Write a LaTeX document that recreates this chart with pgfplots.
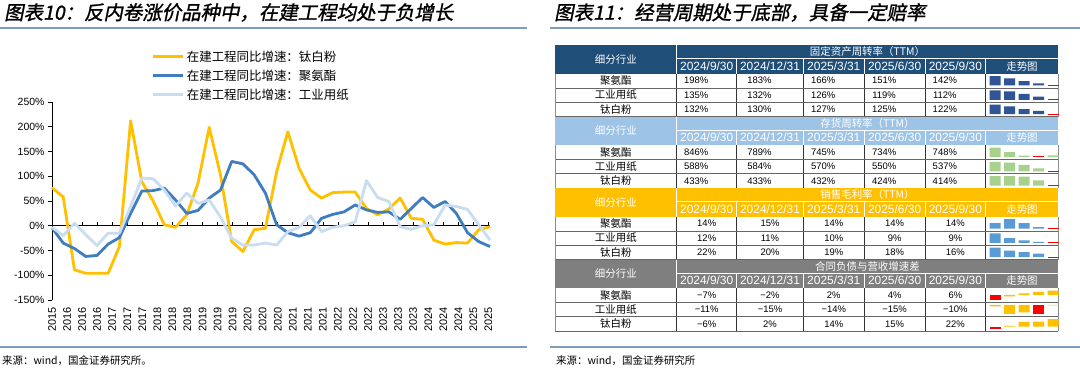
\documentclass[border=0pt]{standalone}
\usepackage{pgfplots}
\usepackage{pgfplotstable}
\pgfplotsset{compat=1.18}
\usepackage{fontspec}
\setmainfont{Liberation Sans}
\newfontfamily\cjk{Noto Sans CJK SC}
\newfontfamily\cjkti[FakeSlant=0.2,FakeBold=1.2]{Noto Sans CJK SC}
\definecolor{cY}{HTML}{FFC000}
\definecolor{cB}{HTML}{3E7DC0}
\definecolor{cL}{HTML}{C8DDF0}
\definecolor{hd1}{HTML}{1F4E79}
\definecolor{hd2}{HTML}{9DC3E6}
\definecolor{hd3}{HTML}{FFC000}
\definecolor{hd4}{HTML}{7F7F7F}
\definecolor{sp1}{HTML}{2F5597}
\definecolor{sp2}{HTML}{A9D18E}
\definecolor{sp3}{HTML}{5B9BD5}
\definecolor{sp4}{HTML}{FFC000}
\definecolor{tline}{HTML}{7C9DBB}

\pgfplotstableread{
i ti jq zy
0 77 -4 -3
1 58 -35 -20
2 -89 -46 5
3 -96 -62 -18
4 -96 -60 -40
5 -96 -37 -15
6 -42 -24 -15
7 212 25 39
8 89 70 96
9 50 71 95
10 2 76 72
11 -3 52 40
12 22 25 66
13 86 31 45
14 199 56 52
15 103 72 18
16 -32 130 -25
17 -52 125 -39
18 -8 103 -39
19 -5 66 -35
20 109 2 -39
21 190 -14 -12
22 116 -21 -3
23 72 -14 20
24 56 15 -12
25 67 23 -3
26 68 28 0
27 68 42 8
28 35 32 91
29 22 27 57
30 34 28 49
31 56 13 -2
32 15 35 -7
33 13 57 0
34 -29 37 2
35 -37 49 42
36 -34 25 39
37 -35 -14 33
38 -8 -32 2
39 -2 -42 -29
}\linedata

\newcommand{\spark}[6]{%
\begin{axis}[at={(987.75bp,-#1bp)}, anchor=north west, width=72.5bp, height=9.5bp,
  scale only axis, hide axis, xmin=0.5, xmax=5.5, ymin=#2, ymax=#3, clip=true]
\addplot[ybar, bar width=11bp, bar shift=0pt, fill=#4, draw=none] coordinates {#5};
\addplot[ybar, bar width=11bp, bar shift=0pt, fill=red, draw=none] coordinates {#6};
\end{axis}}

\newcommand{\trow}[8]{%
  \node[font=\fontsize{10.5}{12}\cjk] at (615.8,{#1+7.2}) {#3};
  \node[font=\fontsize{9.5}{11}\selectfont] at ({706.7+(#2)},{#1+7.2}) {#4};
  \node[font=\fontsize{9.5}{11}\selectfont] at ({770+(#2)},{#1+7.2}) {#5};
  \node[font=\fontsize{9.5}{11}\selectfont] at ({833.8+(#2)},{#1+7.2}) {#6};
  \node[font=\fontsize{9.5}{11}\selectfont] at ({894.65+(#2)},{#1+7.2}) {#7};
  \node[font=\fontsize{9.5}{11}\selectfont] at ({955.35+(#2)},{#1+7.2}) {#8};
}

\begin{document}
\begin{tikzpicture}
\path[use as bounding box, fill=white] (0bp,0bp) rectangle (1080bp,-378bp);
\begin{scope}[x=1bp,y=-1bp]
% titles and rules
\node[anchor=west, font=\fontsize{19.5}{22}\cjkti, inner sep=0pt] at (4,12.5) {图表10：反内卷涨价品种中，在建工程均处于负增长};
\node[anchor=west, font=\fontsize{19.5}{22}\cjkti, inner sep=0pt] at (554,12.5) {图表11：经营周期处于底部，具备一定赔率};
\fill[tline] (0,26.5) rectangle (527,28.5);
\fill[tline] (550,26.5) rectangle (1080,28.5);
\fill[tline] (0,346) rectangle (527,347.5);
\fill[tline] (550,346) rectangle (1080,347.5);
\node[anchor=west, font=\fontsize{10.5}{12}\cjk, inner sep=0pt] at (2,361) {来源：wind，国金证券研究所。};
\node[anchor=west, font=\fontsize{10.5}{12}\cjk, inner sep=0pt] at (556,361) {来源：wind，国金证券研究所};
% table sections
\foreach \s/\col/\ttl in {0/hd1/固定资产周转率（TTM）,1/hd2/存货周转率（TTM）,2/hd3/销售毛利率（TTM）,3/hd4/合同负债与营收增速差}{
  \pgfmathsetmacro\T{45+71.5*\s}
  \fill[\col] (555,\T) rectangle (1058.3,\T+28.5);
  \draw[white, line width=0.8bp] (676.7,\T) -- (676.7,\T+28.5);
  \draw[white, line width=0.8bp] (676.7,\T+13.5) -- (1058.3,\T+13.5);
  \foreach \c in {736.7,803.3,864.3,925,985.7}{\draw[white, line width=0.8bp] (\c,\T+13.5) -- (\c,\T+28.5);}
  \node[text=white, font=\fontsize{10.5}{12}\cjk] at (615.8,\T+14.25) {细分行业};
  \node[text=white, font=\fontsize{10.5}{12}\cjk] at (867.5,\T+6.9) {\ttl};
  \node[text=white, font=\fontsize{12}{14}\selectfont] at (706.7,\T+21.2) {2024/9/30};
  \node[text=white, font=\fontsize{12}{14}\selectfont] at (770,\T+21.2) {2024/12/31};
  \node[text=white, font=\fontsize{12}{14}\selectfont] at (833.8,\T+21.2) {2025/3/31};
  \node[text=white, font=\fontsize{12}{14}\selectfont] at (894.65,\T+21.2) {2025/6/30};
  \node[text=white, font=\fontsize{12}{14}\selectfont] at (955.35,\T+21.2) {2025/9/30};
  \node[text=white, font=\fontsize{10.5}{12}\cjk] at (1022,\T+21.2) {走势图};
  \foreach \c in {676.7,736.7,803.3,864.3,925,985.7}{\draw[black!80, line width=0.7bp] (\c,\T+28.5) -- (\c,\T+71.5);}
  \foreach \r in {42.83,57.17,71.5}{\draw[black!60, line width=0.6bp] (555,\T+\r) -- (1058.3,\T+\r);}
  \draw[black!45, line width=0.6bp] (555,\T+28.5) -- (555,\T+71.5);
  \draw[black!45, line width=0.6bp] (1058.3,\T+28.5) -- (1058.3,\T+71.5);
}
\trow{73.5}{-10.5}{聚氨酯}{198\%}{183\%}{166\%}{151\%}{142\%}
\trow{87.83}{-10.5}{工业用纸}{135\%}{132\%}{126\%}{119\%}{112\%}
\trow{102.17}{-10.5}{钛白粉}{132\%}{130\%}{127\%}{125\%}{122\%}
\trow{145}{-10.5}{聚氨酯}{846\%}{789\%}{745\%}{734\%}{748\%}
\trow{159.33}{-10.5}{工业用纸}{588\%}{584\%}{570\%}{550\%}{537\%}
\trow{173.67}{-10.5}{钛白粉}{433\%}{433\%}{432\%}{424\%}{414\%}
\trow{216.5}{0}{聚氨酯}{14\%}{15\%}{14\%}{14\%}{14\%}
\trow{230.83}{0}{工业用纸}{12\%}{11\%}{10\%}{9\%}{9\%}
\trow{245.17}{0}{钛白粉}{22\%}{20\%}{19\%}{18\%}{16\%}
\trow{288}{0}{聚氨酯}{−7\%}{−2\%}{2\%}{4\%}{6\%}
\trow{302.33}{0}{工业用纸}{−11\%}{−15\%}{−14\%}{−15\%}{−10\%}
\trow{316.67}{0}{钛白粉}{−6\%}{2\%}{14\%}{15\%}{22\%}
\end{scope}

% sparklines
\spark{76}{138.1}{198}{sp1}{(1,198)(2,183)(3,166)(4,151)}{(5,142)}
\spark{90.33}{110.4}{135}{sp1}{(1,135)(2,132)(3,126)(4,119)}{(5,112)}
\spark{104.67}{121.3}{132}{sp1}{(1,132)(2,130)(3,127)(4,125)}{(5,122)}
\spark{147.5}{726.2}{846}{sp2}{(1,846)(2,789)(3,745)(5,748)}{(4,734)}
\spark{161.83}{533.4}{588}{sp2}{(1,588)(2,584)(3,570)(4,550)}{(5,537)}
\spark{176.17}{412.7}{433}{sp2}{(1,433)(2,433)(3,432)(4,424)}{(5,414)}
\spark{219}{13.61}{15}{sp3}{(1,14.4)(2,15.0)(3,14.4)(4,13.8)}{(5,13.7)}
\spark{233.33}{9.0}{12.2}{sp3}{(1,12.2)(2,10.6)(3,9.8)(4,9.3)}{(5,9.2)}
\spark{247.67}{15.58}{22}{sp3}{(1,22)(2,20)(3,19)(4,18)}{(5,16)}
\spark{290.5}{-7}{6}{sp4}{(2,-2)(3,2)(4,4)(5,6)}{(1,-7)}
\spark{304.83}{-15.2}{-9.64}{sp4}{(1,-10.6)(2,-14.9)(3,-14)(5,-10)}{(4,-15.2)}
\spark{319.17}{-6}{22}{sp4}{(2,2)(3,14)(4,15)(5,22)}{(1,-6)}

% line chart
\begin{axis}[at={(52bp,-300bp)}, anchor=south west, width=438bp, height=198bp, scale only axis,
  xmin=0, xmax=39, ymin=-150, ymax=250,
  axis y line=left, axis x line=middle,
  axis line style={-, black, line width=0.8bp},
  ytick={-150,-100,...,250},
  yticklabel={\pgfmathprintnumber{\tick}\%},
  /pgf/number format/assume math mode=true,
  y tick label style={font=\fontsize{10.5}{12}\selectfont},
  xtick={0,1.34,2.68,4.02,5.36,6.7,8.04,9.38,10.72,12.06,13.4,14.74,16.08,17.42,18.76,20.1,21.44,22.78,24.12,25.46,26.8,28.14,29.48,30.82,32.16,33.5,34.84,36.18,37.52,38.86},
  xticklabels={},
  tick style={black, line width=0.7bp},
  major tick length=4bp,
  ytick align=outside, xtick align=inside,
  clip=false,
  legend style={at={(0.228,1.27)}, anchor=north west, draw=none, fill=none,
     font=\fontsize{12.5}{14}\cjk, row sep=3bp, inner sep=0pt},
  legend cell align=left,
  legend image code/.code={\draw[#1] (0bp,0bp) -- (30bp,0bp);},
]
\addplot[cY, line width=2.8bp, line join=round] table[x=i, y=ti] {\linedata};
\addlegendentry{在建工程同比增速：钛白粉}
\addplot[cB, line width=2.8bp, line join=round] table[x=i, y=jq] {\linedata};
\addlegendentry{在建工程同比增速：聚氨酯}
\addplot[cL, line width=2.8bp, line join=round] table[x=i, y=zy] {\linedata};
\addlegendentry{在建工程同比增速：工业用纸}
\end{axis}
\begin{axis}[at={(52bp,-300bp)}, anchor=south west, width=438bp, height=198bp, scale only axis,
  xmin=0, xmax=39, ymin=-150, ymax=250,
  axis x line=bottom, axis y line=none, x axis line style={draw=none},
  xtick={0,1.34,2.68,4.02,5.36,6.7,8.04,9.38,10.72,12.06,13.4,14.74,16.08,17.42,18.76,20.1,21.44,22.78,24.12,25.46,26.8,28.14,29.48,30.82,32.16,33.5,34.84,36.18,37.52,38.86},
  xticklabels={2015,2016,2016,2016,2017,2017,2017,2018,2018,2018,2019,2019,2019,2020,2020,2020,2021,2021,2021,2022,2022,2022,2023,2023,2023,2024,2024,2024,2025,2025},
  major x tick style={draw=none},
  xticklabel style={rotate=90, anchor=east, font=\fontsize{11}{12}\selectfont, inner sep=0pt},
  xticklabel shift=5bp,
]
\end{axis}
\end{tikzpicture}
\end{document}
